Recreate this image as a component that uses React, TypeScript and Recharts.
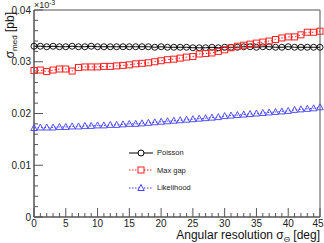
import React from "react";
import {
  LineChart, Line, XAxis, YAxis, ReferenceArea, Legend,
} from "recharts";

const degrees = [
  0, 1, 2, 3, 4, 5, 6, 7, 8, 9, 10, 11, 12, 13, 14, 15, 16, 17, 18, 19, 20, 21, 22,
  23, 24, 25, 26, 27, 28, 29, 30, 31, 32, 33, 34, 35, 36, 37, 38, 39, 40, 41, 42, 43,
  44, 45,
];

const poisson = [
  0.0330, 0.0330, 0.0329, 0.0330, 0.0329, 0.0329, 0.0330, 0.0329, 0.0329, 0.0330,
  0.0329, 0.0329, 0.0329, 0.0329, 0.0329, 0.0329, 0.0329, 0.0329, 0.0329, 0.0328,
  0.0329, 0.0328, 0.0328, 0.0328, 0.0328, 0.0327, 0.0327, 0.0327, 0.0328, 0.0327,
  0.0328, 0.0328, 0.0328, 0.0329, 0.0329, 0.0328, 0.0329, 0.0329, 0.0328, 0.0328,
  0.0329, 0.0328, 0.0328, 0.0328, 0.0328, 0.0328,
];

const maxGap = [
  0.0283, 0.0284, 0.0281, 0.0284, 0.0286, 0.0286, 0.0282, 0.0289, 0.0290, 0.0290,
  0.0290, 0.0291, 0.0291, 0.0292, 0.0293, 0.0294, 0.0296, 0.0297, 0.0298, 0.0300,
  0.0302, 0.0304, 0.0305, 0.0307, 0.0309, 0.0310, 0.0315, 0.0316, 0.0317, 0.0320,
  0.0323, 0.0327, 0.0330, 0.0332, 0.0334, 0.0336, 0.0338, 0.0340, 0.0343, 0.0346,
  0.0348, 0.0348, 0.0352, 0.0357, 0.0357, 0.0359,
];

const likelihood = [
  0.0172, 0.0173, 0.0173, 0.0173, 0.0174, 0.0174, 0.0175, 0.0175, 0.0176, 0.0176,
  0.0177, 0.0177, 0.0178, 0.0178, 0.0179, 0.0180, 0.0180, 0.0181, 0.0182, 0.0183,
  0.0184, 0.0185, 0.0186, 0.0187, 0.0188, 0.0189, 0.0190, 0.0191, 0.0192, 0.0193,
  0.0195, 0.0196, 0.0197, 0.0198, 0.0199, 0.0200, 0.0201, 0.0202, 0.0203, 0.0204,
  0.0205, 0.0207, 0.0208, 0.0209, 0.0210, 0.0212,
];

const xTicks = degrees;
const yTicks = [
  0, 0.002, 0.004, 0.006, 0.008, 0.01, 0.012, 0.014, 0.016, 0.018, 0.02, 0.022,
  0.024, 0.026, 0.028, 0.03, 0.032, 0.034, 0.036, 0.038, 0.04,
];
const yLabels = ["0", "0.01", "0.02", "0.03", "0.04"];

const data = degrees.map((d, i) => ({
  deg: d,
  poisson: poisson[i],
  maxGap: maxGap[i],
  likelihood: likelihood[i],
}));

const FONT = "'Liberation Sans', Arial, sans-serif";
const AXIS = "#555";

const XTick = (props: any) => {
  const { x, y, payload } = props;
  const major = payload.value % 5 === 0;
  // last label sits against the page edge, nudge it in a bit
  const lx = payload.value === 45 ? x - 2 : x;
  return (
    <g>
      <line x1={x} x2={x} y1={y} y2={y - (major ? 9 : 4)} stroke={AXIS} />
      {major && (
        <text x={lx} y={y + 10} textAnchor="middle" fontSize={10} fill="#222" fontFamily={FONT}>
          {payload.value}
        </text>
      )}
    </g>
  );
};

const YTick = (props: any) => {
  const { x, y, index } = props;
  const major = index % 5 === 0;
  return (
    <g>
      <line x1={x} x2={x + (major ? 9 : 4)} y1={y} y2={y} stroke={AXIS} />
      {major && (
        <text x={x - 3} y={y + 3.5} textAnchor="end" fontSize={10} fill="#222" fontFamily={FONT}>
          {yLabels[index / 5]}
        </text>
      )}
    </g>
  );
};

const Square = (props: any) => {
  const { cx, cy } = props;
  if (cx == null || cy == null) return null;
  return <rect x={cx - 3} y={cy - 3} width={6} height={6} fill="none" stroke="#ff2020" strokeWidth={1} />;
};

const Triangle = (props: any) => {
  const { cx, cy } = props;
  if (cx == null || cy == null) return null;
  return <path d={`M${cx},${cy - 3.5}L${cx + 3.2},${cy + 2.5}L${cx - 3.2},${cy + 2.5}Z`} fill="none" stroke="#4040ff" strokeWidth={0.9} />;
};

const legendItems = [
  { name: "Poisson", color: "#000", dash: undefined, shape: "circle" },
  { name: "Max gap", color: "#ff2020", dash: "1.5 1.5", shape: "square" },
  { name: "Likelihood", color: "#4040ff", dash: "1.5 1.5", shape: "triangle" },
];

const LegendBox = () => (
  <div style={{ fontFamily: FONT, fontSize: 7.5, color: "#222" }}>
    {legendItems.map((it) => (
      <div key={it.name} style={{ display: "flex", alignItems: "center", height: 17.5 }}>
        <svg width={28} height={10} style={{ display: "block" }}>
          <line x1={0} x2={24} y1={5} y2={5} stroke={it.color} strokeDasharray={it.dash} />
          {it.shape === "circle" && <circle cx={12} cy={5} r={3} fill="#fff" stroke={it.color} />}
          {it.shape === "square" && <rect x={9} y={2} width={6} height={6} fill="#fff" stroke={it.color} />}
          {it.shape === "triangle" && <path d="M12,1.5L15.2,7.5L8.8,7.5Z" fill="#fff" stroke={it.color} />}
        </svg>
        <span>{it.name}</span>
      </div>
    ))}
  </div>
);

export default function App() {
  return (
    <div style={{ position: "absolute", left: 0, top: 0, width: 324, height: 243, background: "#fff" }}>
      <LineChart
        width={324}
        height={243}
        data={data}
        margin={{ top: 10, right: 4, left: 0, bottom: 0 }}
      >
        <XAxis
          dataKey="deg"
          type="number"
          domain={[0, 45]}
          ticks={xTicks}
          interval={0}
          height={26}
          axisLine={{ stroke: AXIS }}
          tickLine={false}
          tickSize={0}
          tickMargin={0}
          tick={<XTick />}
        />
        <YAxis
          type="number"
          domain={[0, 0.04]}
          ticks={yTicks}
          interval={0}
          width={34}
          axisLine={{ stroke: AXIS }}
          tickLine={false}
          tickSize={0}
          tickMargin={0}
          tick={<YTick />}
        />
        <ReferenceArea x1={0} x2={45} y1={0} y2={0.04} fill="none" stroke={AXIS} strokeOpacity={1} fillOpacity={0} />
        <Line
          dataKey="poisson"
          stroke="#000"
          strokeWidth={1}
          dot={{ r: 3, fill: "none", stroke: "#000", strokeWidth: 0.9 }}
          isAnimationActive={false}
        />
        <Line
          dataKey="maxGap"
          stroke="#ff2020"
          strokeWidth={1}
          strokeDasharray="1.5 2"
          dot={<Square />}
          isAnimationActive={false}
        />
        <Line
          dataKey="likelihood"
          stroke="#4040ff"
          strokeWidth={1}
          strokeDasharray="1.5 2"
          dot={<Triangle />}
          isAnimationActive={false}
        />
        <Legend
          layout="vertical"
          align="center"
          verticalAlign="middle"
          content={<LegendBox />}
          wrapperStyle={{ position: "absolute", left: 129, top: 144, width: 100, height: 54 }}
        />
      </LineChart>
      <svg width={324} height={243} style={{ position: "absolute", left: 0, top: 0, pointerEvents: "none" }}>
        <text x={320} y={239} textAnchor="end" fontSize={12} fill="#111" fontFamily={FONT}>
          Angular resolution σ<tspan fontSize={8} dy={2.5}>Θ</tspan>
          <tspan dy={-2.5}> [deg]</tspan>
        </text>
        <text transform="translate(14,12) rotate(-90)" textAnchor="end" fontSize={12} fill="#111" fontFamily={FONT}>
          σ<tspan fontSize={8} dy={3}>med</tspan>
          <tspan dy={-3}> [pb]</tspan>
        </text>
        <text x={34} y={8} fontSize={9} fill="#222" fontFamily={FONT}>
          ×10<tspan fontSize={6.5} dy={-3}>-3</tspan>
        </text>
      </svg>
    </div>
  );
}
